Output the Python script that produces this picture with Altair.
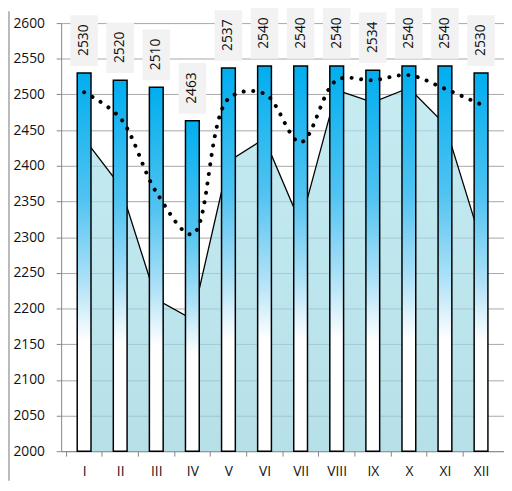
import altair as alt
import pandas as pd

# ---- data ----
months = ["I", "II", "III", "IV", "V", "VI", "VII", "VIII", "IX", "X", "XI", "XII"]
bar_values = [2530, 2520, 2510, 2463, 2537, 2540, 2540, 2540, 2534, 2540, 2540, 2530]
area_values = [2438, 2372, 2213, 2185, 2406, 2438, 2319, 2506, 2489, 2509, 2458, 2294]
trend_values = [2503, 2467, 2363, 2304, 2494, 2501, 2433, 2520, 2520, 2527, 2508, 2486]
y_ticks = list(range(2000, 2601, 50))

df = pd.DataFrame({
    "pos": list(range(1, len(months) + 1)),
    "month": months,
    "bar": bar_values,
    "area": area_values,
    "trend": trend_values,
})

FONT = "Open Sans"
FS = 14
W, H = 450, 435
band = W / len(months)
AXIS_GREY = "#868686"
TEXT = "#111111"

x_scale = alt.Scale(domain=[0.5, len(months) + 0.5], nice=False, zero=False)
y_scale = alt.Scale(domain=[2000, 2600], nice=False, zero=False)

roman_expr = "[" + ",".join(f"'{m}'" for m in months) + "][datum.value - 1]"

x_axis = alt.Axis(
    values=list(range(1, len(months) + 1)), labelExpr=roman_expr, title=None,
    grid=False, tickOffset=-band / 2, labelOffset=band / 2, tickSize=5,
    tickColor=AXIS_GREY, domainColor=AXIS_GREY, labelFont=FONT, labelFontSize=FS,
    labelColor=TEXT, labelPadding=9, labelFlush=False, labelOverlap=False,
)
y_axis = alt.Axis(
    values=y_ticks, title=None, grid=True, gridColor="#a6a6a6", tickSize=5,
    tickColor=AXIS_GREY, domainColor=AXIS_GREY, labelFont=FONT, labelFontSize=FS,
    labelColor=TEXT, labelPadding=12, labelFlush=False, labelOverlap=False,
    format="d",
)

X = alt.X("pos:Q", scale=x_scale, axis=x_axis)

def Y(field):
    return alt.Y(field, scale=y_scale, axis=y_axis)

area_fill = alt.Gradient(
    gradient="linear", x1=0, x2=0, y1=0, y2=1,
    stops=[alt.GradientStop(offset=0, color="#aee2eb"),
           alt.GradientStop(offset=0.5, color="#a2dbe6"),
           alt.GradientStop(offset=1, color="#97d2de")],
)
bar_fill = alt.Gradient(
    gradient="linear", x1=0, x2=0, y1=0, y2=1,
    stops=[alt.GradientStop(offset=0, color="#00aeef"),
           alt.GradientStop(offset=0.33, color="#50c3f1"),
           alt.GradientStop(offset=0.55, color="#ade1f7"),
           alt.GradientStop(offset=0.71, color="#ffffff"),
           alt.GradientStop(offset=1, color="#ffffff")],
)

base = alt.Chart(df)

area = base.mark_area(
    color=area_fill,
    line=alt.OverlayMarkDef(color="black", strokeWidth=1.3),
).encode(x=X, y=Y("area:Q"), y2=alt.datum(2000))

bars = base.mark_bar(
    size=14, color=bar_fill, stroke="black", strokeWidth=1.5,
).encode(x=X, y=Y("bar:Q"), y2=alt.datum(2000))

boxes = base.transform_calculate(
    b0="datum.bar + 10", b1="datum.bar + 81"
).mark_bar(size=28, color="#f2f2f2").encode(x=X, y=Y("b0:Q"), y2="b1:Q")

labels = base.transform_calculate(
    ly="datum.bar + 46"
).mark_text(
    angle=270, font=FONT, fontSize=FS, color=TEXT,
    align="center", baseline="middle",
).encode(x=X, y=Y("ly:Q"), text="bar:Q")

trend = base.mark_line(
    interpolate="catmull-rom", color="black", strokeWidth=4,
    strokeDash=[0.1, 9.6], strokeCap="round",
).encode(x=X, y=Y("trend:Q"))

border = alt.Chart(pd.DataFrame({"k": [0]})).mark_rule(
    color="#8c8c8c", strokeWidth=1.2
).encode(x=alt.value(-53), y=alt.value(-12), y2=alt.value(H + 30))

chart = alt.layer(area, bars, boxes, labels, trend, border).properties(
    width=W, height=H,
    autosize=alt.AutoSizeParams(type="none"),
    padding={"left": 54, "top": 11.5, "right": 0, "bottom": 29},
).configure_view(stroke=None)

chart.save("out.html", embed_options={"renderer": "svg", "actions": False})
